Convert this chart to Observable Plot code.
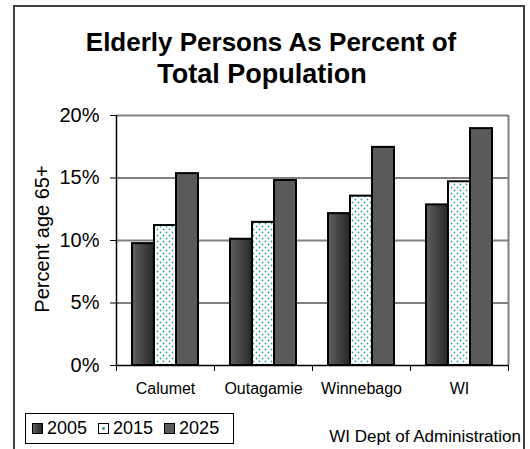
<!DOCTYPE html>
<html>
<head>
<meta charset="utf-8">
<script src="https://cdn.jsdelivr.net/npm/d3@7"></script>
<script src="https://cdn.jsdelivr.net/npm/@observablehq/plot@0.6"></script>
<style>
  html, body { margin: 0; padding: 0; background: #fff; }
  body { width: 530px; height: 449px; position: relative; overflow: hidden; font-family: Arial, "Liberation Sans", sans-serif; }
  #frame { position: absolute; left: 13px; top: 5px; width: 512px; height: 460px; border: 2px solid #404040; box-sizing: border-box; }
  .title { position: absolute; font-weight: bold; white-space: nowrap; transform: translate(-50%, -50%); color: #000; }
  #chart { position: absolute; left: 0; top: 0; }
  #ylabel { position: absolute; left: 42px; top: 239px; transform: translate(-50%, -50%) rotate(-90deg); font-size: 20px; white-space: nowrap; }
  #legend { position: absolute; left: 25px; top: 413px; width: 209px; height: 31px; border: 1.5px solid #000; box-sizing: border-box; display: flex; align-items: center; font-size: 18px; padding-left: 6px; }
  .item { display: flex; align-items: center; margin-right: 11px; }
  .sw { width: 11px; height: 11px; border: 1.5px solid #000; box-sizing: border-box; margin-right: 4px; }
  #caption { position: absolute; right: 9px; top: 437px; transform: translateY(-50%); font-size: 17px; white-space: nowrap; }
</style>
</head>
<body>
<div id="frame"></div>
<div class="title" style="left:271px; top:42px; font-size:26px;">Elderly Persons As Percent of</div>
<div class="title" style="left:262px; top:74px; font-size:27px;">Total Population</div>
<div id="chart"></div>
<div id="ylabel">Percent age 65+</div>
<div id="legend"></div>
<div id="caption">WI Dept of Administration</div>
<script>
// ---- data ----
const categories = ["Calumet", "Outagamie", "Winnebago", "WI"];
const years = ["2005", "2015", "2025"];
const v2005 = [9.75, 10.1, 12.15, 12.85];
const v2015 = [11.2, 11.45, 13.55, 14.7];
const v2025 = [15.35, 14.8, 17.45, 18.95];
const yTicks = [0, 5, 10, 15, 20];

const series = [v2005, v2015, v2025];
const fills = ["url(#grad2005)", "url(#dots2015)", "#5a5a5a"];

// group geometry within each category band (fractions of one category unit)
const barW = 0.2245, groupPad = (1 - 3 * barW) / 2;

const rows = [];
categories.forEach((c, i) => {
  years.forEach((y, j) => {
    rows.push({category: c, year: y, value: series[j][i], i, j});
  });
});

const plot = Plot.plot({
  width: 530,
  height: 400,
  marginLeft: 116,
  marginRight: 22,
  marginTop: 115,
  marginBottom: 35,
  x: {domain: [0, categories.length]},
  y: {domain: [0, 20]},
  style: {fontFamily: "Arial, 'Liberation Sans', sans-serif", background: "transparent", overflow: "visible", color: "#000"},
  marks: [
    Plot.ruleY(yTicks.filter(t => t > 0), {stroke: "#808080", strokeWidth: 2}),
    Plot.ruleX([categories.length], {y1: 0, y2: 20, stroke: "#808080", strokeWidth: 2}),
    Plot.rectY(rows, {
      x1: d => d.i + groupPad + d.j * barW,
      x2: d => d.i + groupPad + (d.j + 1) * barW,
      y1: 0,
      y2: "value",
      fill: d => fills[d.j],
      stroke: "#000",
      strokeWidth: 2
    }),
    Plot.axisY({ticks: yTicks, tickFormat: d => d + "%", tickSize: 6, tickPadding: 11, fontSize: 20, label: null}),
    Plot.ruleX([0], {y1: 0, y2: 20, stroke: "#000", strokeWidth: 1.5}),
    Plot.ruleY([0], {stroke: "#000", strokeWidth: 1.5}),
    Plot.axisX({ticks: d3.range(categories.length + 1), tickFormat: () => "", tickSize: 6, label: null}),
    Plot.axisX({ticks: categories.map((c, i) => i + 0.5), tickFormat: v => categories[Math.floor(v)], tickSize: 0, tickPadding: 17, fontSize: 16, label: null})
  ]
});

// SVG defs: gradient for 2005 bars, dotted pattern for 2015 bars
const ns = "http://www.w3.org/2000/svg";
const defs = document.createElementNS(ns, "defs");
defs.innerHTML = `
  <linearGradient id="grad2005" x1="0" x2="1" y1="0" y2="0">
    <stop offset="0" stop-color="#606060"/>
    <stop offset="1" stop-color="#262626"/>
  </linearGradient>
  <pattern id="dots2015" width="6" height="6" patternUnits="userSpaceOnUse">
    <rect width="6" height="6" fill="#fff"/>
    <circle cx="1.5" cy="1.5" r="0.9" fill="#3a9e9e"/>
    <circle cx="4.5" cy="4.5" r="0.9" fill="#3a9e9e"/>
  </pattern>`;
plot.insertBefore(defs, plot.firstChild);
document.getElementById("chart").appendChild(plot);

// legend
const legend = document.getElementById("legend");
const swatchStyles = [
  "background: linear-gradient(to right, #606060, #262626);",
  "background: radial-gradient(circle, #3a9e9e 0 1.3px, #fff 1.6px);",
  "background: #5a5a5a;"
];
years.forEach((y, j) => {
  const item = document.createElement("div");
  item.className = "item";
  item.innerHTML = `<div class="sw" style="${swatchStyles[j]}"></div><span>${y}</span>`;
  legend.appendChild(item);
});
</script>
</body>
</html>
